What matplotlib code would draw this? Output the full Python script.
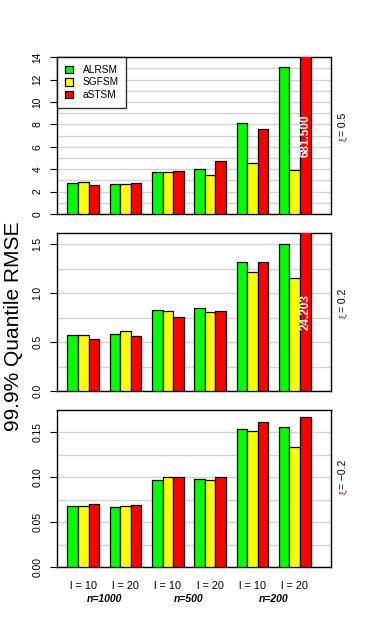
import numpy as np
import matplotlib.pyplot as plt
from matplotlib.patches import Patch

plt.rcParams['font.family'] = ['Liberation Sans', 'DejaVu Sans']

# data
methods = ['ALRSM', 'SGFSM', 'aSTSM']
colors = ['#00ff00', '#ffff00', '#ff0000']
l_labels = ['l = 10', 'l = 20', 'l = 10', 'l = 20', 'l = 10', 'l = 20']
n_labels = ['n=1000', 'n=500', 'n=200']
xi_labels = ['0.5', '0.2', '\u22120.2']

# rows: ALRSM, SGFSM, aSTSM; columns: the six (n, l) settings
rmse_xi05 = [[2.80, 2.65, 3.72, 3.99, 8.10, 13.10],
             [2.88, 2.65, 3.72, 3.45, 4.52, 3.92],
             [2.62, 2.74, 3.84, 4.70, 7.56, 681.5]]
rmse_xi02 = [[0.575, 0.582, 0.827, 0.847, 1.316, 1.500],
             [0.575, 0.612, 0.816, 0.806, 1.214, 1.153],
             [0.535, 0.561, 0.755, 0.816, 1.316, 24.203]]
rmse_xim02 = [[0.0678, 0.0667, 0.0967, 0.0978, 0.1533, 0.1556],
              [0.0678, 0.0678, 0.1000, 0.0967, 0.1511, 0.1333],
              [0.0700, 0.0689, 0.1000, 0.1000, 0.1610, 0.1667]]

panels = [rmse_xi05, rmse_xi02, rmse_xim02]
ylims = [14, 1.615, 0.1748]
major = [2, 0.5, 0.05]
minor = [1, 0.25, 0.025]
fmts = ['{:.0f}', '{:.1f}', '{:.2f}']

fig = plt.figure(figsize=(3.8, 6.25), dpi=100)
boxes = [(57.3, 214.0), (233.0, 391.3), (410.0, 567.3)]
W, H = 380, 625

axes = []
for k, (vals, ytop) in enumerate(zip(panels, ylims)):
    top, bot = boxes[k]
    ax = fig.add_axes([57.3 / W, 1 - bot / H, 274 / W, (bot - top) / H])
    axes.append(ax)
    vals = np.array(vals)
    ngroup = vals.shape[1]
    for g in range(ngroup):
        for j in range(3):
            x0 = 1 + g * 4 + j
            ax.bar(x0, vals[j, g], width=1, align='edge', color=colors[j],
                   edgecolor='black', linewidth=0.9, zorder=3)
            if vals[j, g] > ytop:
                ax.text(x0 + 0.5, ytop / 2, f'{vals[j, g]:.3f}', rotation=90,
                        ha='center', va='center', color='white',
                        fontweight='bold', fontsize=8.5, zorder=4)
    ax.set_xlim(0.04, 25.96)
    ax.set_ylim(0, ytop)
    for yv in np.arange(0, ytop + 1e-9, minor[k]):
        ax.axhline(yv, color='#d3d3d3', linewidth=1.0, zorder=1)
    ticks = np.arange(0, ytop + 1e-9, major[k])
    ax.set_yticks(ticks)
    ax.set_yticklabels([fmts[k].format(t) for t in ticks], rotation=90,
                       va='center', fontsize=7.4)
    ax.tick_params(axis='y', length=5, width=0.8, pad=5.5)
    ax.set_xticks([])
    for s in ax.spines.values():
        s.set_linewidth(1.0)

    # panel label on the right
    yc = 0.5
    ax.text(1.044, yc, '= ' + xi_labels[k], rotation=90, ha='center',
            va='bottom', fontsize=7.5, transform=ax.transAxes)
    ax.text(1.044, yc - 0.01, '\u03be', rotation=90, ha='center', va='top',
            fontsize=6.5, color='#800080', transform=ax.transAxes)

# legend in the top panel
handles = [Patch(facecolor=c, edgecolor='black', linewidth=0.9) for c in colors]
leg = axes[0].legend(handles, methods, loc='upper left', fontsize=7.3,
                     borderaxespad=0, frameon=True, fancybox=False,
                     edgecolor='black', handlelength=0.75, handleheight=0.75,
                     handletextpad=1.0, labelspacing=0.25, borderpad=0.75)
leg.get_frame().set_linewidth(1.0)
leg.set_zorder(5)

# x labels under the bottom panel
axb = axes[-1]
for g, lab in enumerate(l_labels):
    axb.text(1 + g * 4 + 1.5, -19 / 157.3, lab, ha='center', va='center',
             fontsize=7.8, transform=axb.get_xaxis_transform())
for i, lab in enumerate(n_labels):
    axb.text(4.5 + i * 8, -32 / 157.3, lab, ha='center', va='center',
             fontsize=7.5, fontweight='bold', fontstyle='italic',
             transform=axb.get_xaxis_transform())

fig.text(13.5 / W, 1 - 326 / H, '99.9% Quantile RMSE', rotation=90,
         ha='center', va='center', fontsize=15)

fig.savefig('out.png', dpi=100)
